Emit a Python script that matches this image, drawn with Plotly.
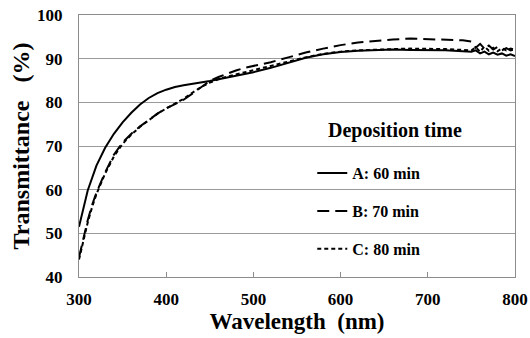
import plotly.graph_objects as go

wl_a = [300, 305, 310, 320, 330, 340, 350, 360, 370, 380, 390, 400, 410, 420, 430, 440, 450, 460, 470, 480, 490, 500,
        520, 540, 560, 580, 600, 620, 640, 660, 680, 700, 720, 740, 750, 755, 760, 765, 770, 775, 780, 785, 790, 795, 800]
t_a = [51.5, 56.0, 59.8, 65.5, 69.6, 72.8, 75.4, 77.6, 79.5, 81.0, 82.1, 82.9, 83.5, 83.9, 84.2, 84.5, 84.9, 85.3, 85.7, 86.1, 86.5, 86.9,
       87.9, 89.0, 90.2, 91.0, 91.5, 91.8, 92.0, 92.1, 92.0, 92.0, 91.9, 91.7, 91.6, 91.9, 91.2, 91.6, 91.0, 91.4, 90.9, 91.2, 90.7, 91.0, 90.6]

wl_b = [300, 305, 310, 315, 320, 330, 340, 350, 360, 370, 380, 390, 400, 410, 420, 430, 440, 450, 460, 470, 480, 490, 500,
        520, 540, 560, 580, 600, 620, 640, 660, 680, 700, 720, 740, 750, 755, 760, 765, 770, 775, 780, 785, 790, 795, 800]
t_b = [44.5, 49.0, 53.0, 56.5, 59.3, 64.0, 68.0, 70.8, 72.8, 74.5, 76.0, 77.4, 78.6, 79.6, 80.6, 82.0, 83.4, 84.9, 85.8, 86.6, 87.3, 87.9, 88.3,
       89.2, 90.3, 91.4, 92.3, 93.1, 93.7, 94.1, 94.4, 94.6, 94.5, 94.4, 94.2, 93.9, 92.5, 93.4, 92.3, 93.0, 92.1, 92.7, 91.9, 92.4, 91.9, 92.2]

wl_c = [300, 305, 310, 315, 320, 330, 340, 350, 360, 370, 380, 390, 400, 410, 420, 430, 440, 450, 460, 470, 480, 490, 500,
        520, 540, 560, 580, 600, 620, 640, 660, 680, 700, 720, 740, 750, 755, 760, 765, 770, 775, 780, 785, 790, 795, 800]
t_c = [44.0, 48.5, 52.5, 56.0, 59.0, 63.7, 67.6, 70.5, 72.6, 74.4, 76.0, 77.4, 78.6, 79.7, 80.8, 82.2, 83.5, 84.5, 85.3, 85.9, 86.4, 86.9, 87.3,
       88.3, 89.3, 90.3, 91.1, 91.6, 91.9, 92.1, 92.2, 92.3, 92.3, 92.2, 92.0, 91.9, 92.6, 91.6, 92.8, 91.8, 92.5, 91.7, 92.4, 91.9, 92.3, 92.0]

names = ["A: 60 min", "B: 70 min", "C: 80 min"]
legend_title = "Deposition time"
x_title = "Wavelength  (nm)"
y_title = "Transmittance   (%)"

FONT = "Liberation Serif"

fig = go.Figure()
series = [(wl_a, t_a, "solid"), (wl_b, t_b, "12px,6px"), (wl_c, t_c, "4px,3px")]
for i, ((x, y, dash), nm) in enumerate(zip(series, names)):
    fig.add_trace(go.Scatter(x=x, y=y, mode="lines", name=nm, legendgroup=f"g{i}",
                             line=dict(color="black", width=2, dash=dash)))

fig.update_layout(
    width=530, height=338,
    margin=dict(l=79, r=15, t=15, b=61),
    plot_bgcolor="white", paper_bgcolor="white",
    font=dict(family=FONT, color="black"),
    showlegend=True,
    legend=dict(
        x=0.535, y=0.461, xanchor="left", yanchor="top",
        bgcolor="rgba(0,0,0,0)",
        traceorder="grouped", tracegroupgap=14,
        font=dict(family=FONT, size=16, weight="bold"),
    ),
    annotations=[dict(text=legend_title, xref="paper", yref="paper", x=0.725, y=0.561,
                      xanchor="center", yanchor="middle", showarrow=False,
                      font=dict(family=FONT, size=20, weight="bold"))],
)
fig.update_xaxes(
    range=[300, 800], dtick=100, tick0=300, automargin=False,
    showgrid=False, showline=True, linecolor="#8c8c8c", linewidth=1, mirror=True,
    ticks="inside", ticklen=5, tickcolor="#8c8c8c", ticklabelstandoff=7,
    ticklabeloverflow="allow",
    tickfont=dict(family=FONT, size=17, weight="bold"),
    title=dict(text=x_title, font=dict(family=FONT, size=23, weight="bold"), standoff=0),
    zeroline=False,
)
fig.update_yaxes(
    range=[40, 100], dtick=10, tick0=40, automargin=False,
    showgrid=True, gridcolor="#9a9a9a", gridwidth=1,
    showline=True, linecolor="#8c8c8c", linewidth=1, mirror=True,
    ticks="", ticklabelstandoff=12, ticklabeloverflow="allow",
    tickfont=dict(family=FONT, size=17, weight="bold"),
    title=dict(text=y_title, font=dict(family=FONT, size=24, weight="bold"), standoff=0),
    zeroline=False,
)

fig.write_html("out.html", config={"displayModeBar": False},
               post_script="document.body.style.margin='0';")
